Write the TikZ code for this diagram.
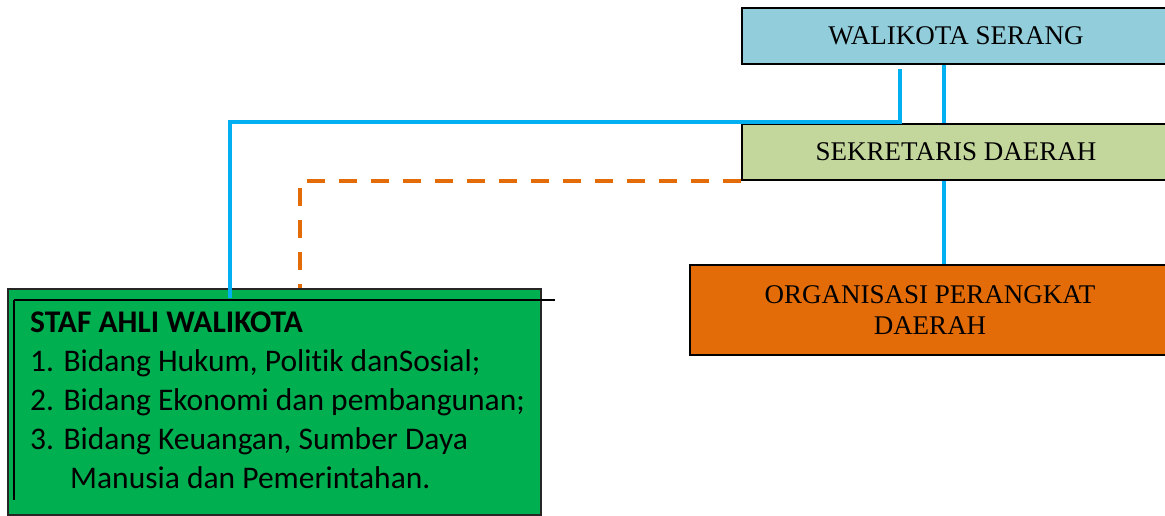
\documentclass[tikz,border=0pt]{standalone}
\usepackage{fontspec}
\setmainfont{Liberation Serif}
\newfontfamily\carlito[Ligatures=NoCommon]{Carlito}
\usepackage{xcolor}
\usepackage{tikz}
\usetikzlibrary{calc,positioning}
\definecolor{birux}{HTML}{92CDDC}
\definecolor{zaitunx}{HTML}{C3D69B}
\definecolor{oranyex}{HTML}{E36C09}
\definecolor{hijaux}{HTML}{00B050}
\definecolor{langitx}{HTML}{00B0F0}
\tikzset{
  kotak/.style={draw=black,line width=2pt,align=center,inner sep=0pt,font=\fontsize{27}{31}\selectfont},
  garis/.style={langitx,line width=4pt},
  putus/.style={oranyex,line width=4pt,dash pattern=on 18pt off 14pt},
  tipis/.style={black,line width=1.6pt}
}

\begin{document}
\begin{tikzpicture}[x=1pt,y=1pt]
\useasboundingbox (0,0) rectangle (1165,516);
\node[kotak,fill=birux,minimum width=428pt,minimum height=56pt] (walikota) at (956,480) {WALIKOTA SERANG};
\node[kotak,fill=zaitunx,minimum width=428pt,minimum height=56pt] (sekda) at (956,364) {SEKRETARIS DAERAH};
\node[kotak,fill=oranyex,minimum width=480pt,minimum height=90pt] (opd) at (930,206) {ORGANISASI PERANGKAT\\DAERAH};
\node[draw=black!85,line width=2pt,fill=hijaux,minimum width=533pt,minimum height=226pt,inner sep=0pt] (staf) at (274.5,114) {};
% garis dalam kotak staf
\draw[tipis] (14,216) -- (14,16);
\draw[tipis] (14,216) -- (555,216);
\node[anchor=north west,align=left,inner sep=0pt,font=\carlito\fontsize{31.5}{39}\selectfont] (staftext) at (30,204)
  {\textbf{STAF AHLI WALIKOTA}\\
   1. Bidang Hukum, Politik danSosial;\\
   2. Bidang Ekonomi dan pembangunan;\\
   3. Bidang Keuangan, Sumber Daya\\
   \hspace*{40pt}Manusia dan Pemerintahan.};
% penghubung
\coordinate (tengah) at (944,0);
\coordinate (cabang) at (900,0);
\coordinate (belokbiru) at (230,394);
\coordinate (belokoranye) at (300,0);
\draw[garis] (walikota.south -| tengah) -- (sekda.north -| tengah);
\draw[garis] (sekda.south -| tengah) -- (opd.north -| tengah);
\draw[garis] ([yshift=-4pt]walikota.south -| cabang) |- (belokbiru) -- ([yshift=-10pt]staf.north -| belokbiru);
\draw[putus] (sekda.south west) -| (staf.north -| belokoranye);
\end{tikzpicture}
\end{document}
